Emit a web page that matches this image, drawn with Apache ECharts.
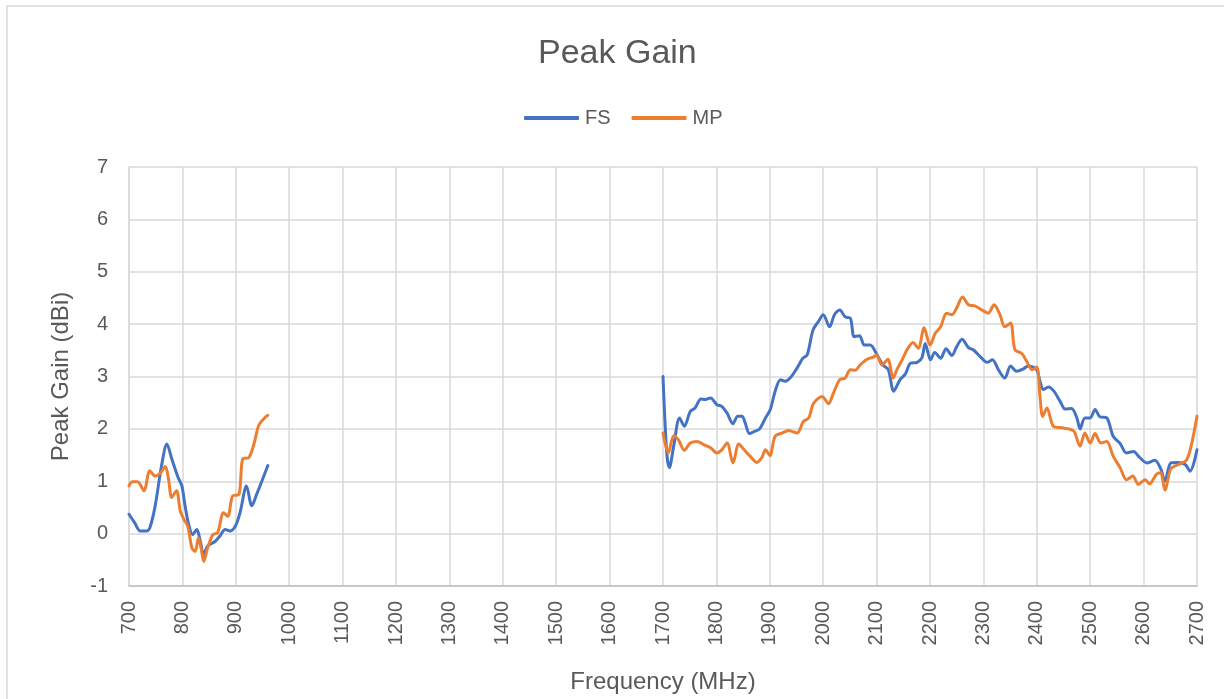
<!DOCTYPE html>
<html>
<head>
<meta charset="utf-8">
<script src="https://cdn.jsdelivr.net/npm/echarts@6/dist/echarts.min.js"></script>
<style>
html,body{margin:0;padding:0;background:#fff;}
#chart{width:1224px;height:699px;}
</style>
</head>
<body>
<div id="chart"></div>
<script>
// Tick values
var xTicks = [700, 2700, 100];
var yTicks = [-1, 7, 1];

// FS series (frequency MHz, peak gain dBi)
var fsLow = [[700,0.37],[711,0.2],[721,0.05],[733,0.05],[739,0.11],[749,0.53],[761,1.3],[771,1.71],[780,1.43],[792,1.07],[799,0.91],[805,0.53],[811,0.21],[819,-0.02],[827,0.08],[833,-0.12],[840,-0.40],[847,-0.24],[861,-0.15],[870,-0.05],[880,0.08],[889,0.05],[899,0.14],[908,0.4],[920,0.91],[930,0.53],[939,0.75],[948,0.98],[960,1.3]];
var fsHigh = [[1700,3.0],[1707,1.54],[1712,1.26],[1720,1.67],[1731,2.21],[1740,2.05],[1751,2.33],[1760,2.40],[1771,2.57],[1779,2.56],[1789,2.59],[1801,2.46],[1810,2.43],[1820,2.30],[1831,2.10],[1840,2.24],[1848,2.24],[1854,2.11],[1862,1.91],[1871,1.95],[1881,2.0],[1892,2.21],[1901,2.37],[1910,2.72],[1920,2.94],[1929,2.91],[1938,2.97],[1951,3.16],[1962,3.35],[1970,3.41],[1981,3.89],[1991,4.05],[2000,4.18],[2012,3.95],[2021,4.18],[2031,4.27],[2041,4.14],[2051,4.11],[2058,3.76],[2068,3.78],[2077,3.6],[2088,3.6],[2101,3.41],[2112,3.22],[2122,3.13],[2132,2.72],[2144,2.94],[2154,3.05],[2163,3.25],[2176,3.27],[2185,3.36],[2191,3.63],[2201,3.32],[2209,3.46],[2220,3.35],[2230,3.53],[2241,3.40],[2250,3.57],[2260,3.71],[2272,3.55],[2281,3.51],[2294,3.38],[2307,3.27],[2317,3.32],[2328,3.13],[2340,2.97],[2351,3.20],[2362,3.10],[2374,3.14],[2384,3.20],[2399,3.14],[2406,2.91],[2412,2.75],[2422,2.80],[2432,2.72],[2444,2.52],[2453,2.38],[2465,2.39],[2475,2.21],[2481,2.0],[2490,2.21],[2500,2.21],[2509,2.37],[2518,2.23],[2531,2.21],[2543,1.86],[2556,1.72],[2568,1.54],[2581,1.57],[2593,1.45],[2606,1.35],[2621,1.40],[2632,1.24],[2640,1.0],[2651,1.35],[2665,1.36],[2678,1.32],[2687,1.19],[2700,1.60]];

// MP series (frequency MHz, peak gain dBi)
var mpLow = [[700,0.91],[706,0.99],[716,0.99],[728,0.82],[739,1.2],[749,1.1],[758,1.15],[768,1.28],[774,1.04],[780,0.69],[789,0.82],[796,0.43],[803,0.27],[810,0.14],[818,-0.28],[824,-0.34],[830,-0.08],[835,-0.28],[840,-0.53],[847,-0.28],[857,-0.02],[866,0.02],[877,0.4],[885,0.33],[894,0.72],[906,0.75],[913,1.43],[924,1.45],[934,1.71],[943,2.07],[955,2.22],[960,2.26]];
var mpHigh = [[1700,1.92],[1710,1.54],[1720,1.87],[1729,1.79],[1740,1.59],[1751,1.73],[1764,1.76],[1776,1.70],[1789,1.64],[1801,1.54],[1810,1.60],[1820,1.73],[1831,1.35],[1842,1.71],[1852,1.60],[1863,1.48],[1876,1.36],[1885,1.45],[1892,1.60],[1900,1.49],[1910,1.86],[1923,1.92],[1935,1.97],[1951,1.92],[1963,2.14],[1973,2.21],[1982,2.49],[1998,2.62],[2010,2.48],[2019,2.68],[2031,2.94],[2041,2.97],[2051,3.13],[2060,3.12],[2069,3.22],[2082,3.33],[2094,3.37],[2100,3.41],[2110,3.22],[2121,3.33],[2131,2.97],[2138,3.13],[2148,3.32],[2157,3.51],[2168,3.65],[2178,3.54],[2189,3.93],[2200,3.6],[2210,3.83],[2220,3.95],[2231,4.21],[2241,4.18],[2250,4.31],[2261,4.52],[2272,4.37],[2284,4.35],[2297,4.27],[2309,4.21],[2320,4.37],[2331,4.18],[2340,3.95],[2351,4.02],[2359,3.51],[2372,3.44],[2381,3.29],[2391,3.13],[2400,3.18],[2406,2.62],[2411,2.24],[2419,2.40],[2431,2.05],[2447,2.02],[2460,2.0],[2470,1.95],[2481,1.67],[2490,1.92],[2500,1.73],[2509,1.91],[2520,1.73],[2531,1.76],[2543,1.48],[2556,1.26],[2568,1.03],[2580,1.10],[2590,0.94],[2603,1.03],[2611,0.95],[2624,1.13],[2632,1.16],[2640,0.83],[2651,1.24],[2665,1.32],[2680,1.40],[2689,1.67],[2700,2.24]];

var seriesNames = ['FS', 'MP'];
var titleText = 'Peak Gain';
var xName = 'Frequency (MHz)';
var yName = 'Peak Gain (dBi)';

var FONT = '"Liberation Sans", Arial, sans-serif';
var TXT = '#595959';

function joinBands(a, b) {
  return a.concat([[1300, '-']], b);
}

var chart = echarts.init(document.getElementById('chart'));
chart.setOption({
  animation: false,
  backgroundColor: '#ffffff',
  textStyle: { fontFamily: FONT },
  graphic: [{
    type: 'rect',
    shape: { x: 7, y: 6, width: 1400, height: 900 },
    style: { fill: 'none', stroke: '#d9d9d9', lineWidth: 1.5 },
    silent: true
  }],
  title: {
    text: titleText,
    left: 538,
    top: 37,
    padding: 0,
    textStyle: { fontFamily: FONT, fontSize: 34, fontWeight: 'normal', color: TXT }
  },
  legend: {
    left: 524,
    top: 108,
    padding: 0,
    itemWidth: 55,
    itemHeight: 4,
    itemGap: 21,
    icon: 'roundRect',
    data: seriesNames,
    textStyle: { fontFamily: FONT, fontSize: 20, color: TXT, padding: [0, 0, 0, 1] }
  },
  grid: { left: 129, right: 27, top: 167, bottom: 113 },
  xAxis: {
    type: 'value',
    min: xTicks[0], max: xTicks[1], interval: xTicks[2],
    name: xName,
    nameLocation: 'middle',
    nameGap: 84,
    nameTextStyle: { fontFamily: FONT, fontSize: 24, color: TXT },
    axisLine: { show: true, onZero: false, lineStyle: { color: '#bfbfbf', width: 1.5 } },
    axisTick: { show: false },
    axisLabel: { rotate: 90, fontSize: 20, color: TXT, margin: 15, fontFamily: FONT,
      formatter: function (v) { return String(v); } },
    splitLine: { show: true, lineStyle: { color: '#d9d9d9', width: 1.5 } }
  },
  yAxis: {
    type: 'value',
    min: yTicks[0], max: yTicks[1], interval: yTicks[2],
    name: yName,
    nameLocation: 'middle',
    nameGap: 56,
    nameTextStyle: { fontFamily: FONT, fontSize: 24, color: TXT },
    axisLine: { show: true, lineStyle: { color: '#d9d9d9', width: 1.5 } },
    axisTick: { show: false },
    axisLabel: { fontSize: 20, color: TXT, margin: 21, fontFamily: FONT },
    splitLine: { show: true, lineStyle: { color: '#d9d9d9', width: 1.5 } }
  },
  series: [
    {
      name: seriesNames[0], type: 'line',
      data: joinBands(fsLow, fsHigh),
      showSymbol: false, symbol: 'none', smooth: 0.3,
      connectNulls: false,
      itemStyle: { color: '#4472C4' },
      lineStyle: { color: '#4472C4', width: 3, cap: 'round', join: 'round' }
    },
    {
      name: seriesNames[1], type: 'line',
      data: joinBands(mpLow, mpHigh),
      showSymbol: false, symbol: 'none', smooth: 0.3,
      connectNulls: false,
      itemStyle: { color: '#ED7D31' },
      lineStyle: { color: '#ED7D31', width: 3, cap: 'round', join: 'round' }
    }
  ]
});
</script>
</body>
</html>
